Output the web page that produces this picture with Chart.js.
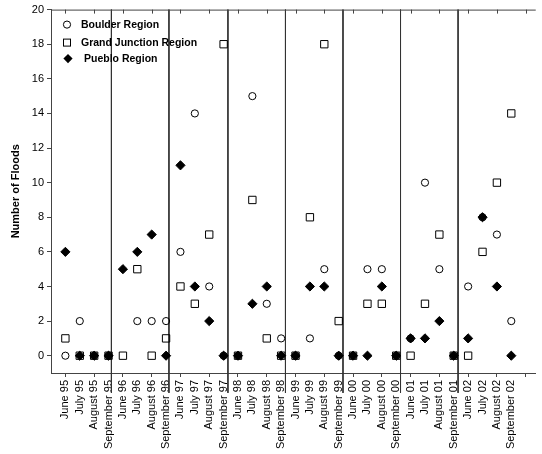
<!DOCTYPE html>
<html>
<head>
<meta charset="utf-8">
<script src="https://cdn.jsdelivr.net/npm/chart.js@4.4.0/dist/chart.umd.min.js"></script>
<style>
  body { margin: 0; background: #fff; }
</style>
</head>
<body>
<canvas id="myChart" width="542" height="454"></canvas>
<script>
var ctx = document.getElementById('myChart').getContext('2d');

// x categories, one per month
var monthLabels = [
  'June 95', 'July 95', 'August 95', 'September 95',
  'June 96', 'July 96', 'August 96', 'September 96',
  'June 97', 'July 97', 'August 97', 'September 97',
  'June 98', 'July 98', 'August 98', 'September 98',
  'June 99', 'July 99', 'August 99', 'September 99',
  'June 00', 'July 00', 'August 00', 'September 00',
  'June 01', 'July 01', 'August 01', 'September 01',
  'June 02', 'July 02', 'August 02', 'September 02'
];

var boulder = [0, 2, 0, 0, null, 2, 2, 2, 6, 14, 4, 0, 0, 15, 3, 1,
               0, 1, 5, 0, 0, 5, 5, 0, 1, 10, 5, 0, 4, 8, 7, 2];
var grandJunction = [1, 0, 0, 0, 0, 5, 0, 1, 4, 3, 7, 18, 0, 9, 1, 0,
                     0, 8, 18, 2, 0, 3, 3, 0, 0, 3, 7, 0, 0, 6, 10, 14];
var pueblo = [6, 0, 0, 0, 5, 6, 7, 0, 11, 4, 2, 0, 0, 3, 4, 0,
              0, 4, 4, 0, 0, 0, 4, 0, 1, 1, 2, 0, 1, 8, 4, 0];

// year separators (x position in category units)
var yearLines = [3.2, 7.2, 11.3, 15.3, 19.3, 23.3, 27.3];

var yTicks = [0, 2, 4, 6, 8, 10, 12, 14, 16, 18, 20];
var xTicks = [];
for (var i = 0; i <= 32; i++) xTicks.push(i);

var axisColor = '#444';

function toPoints(arr) {
  var out = [];
  arr.forEach(function(v, i) {
    if (v !== null) out.push({x: i, y: v});
  });
  return out;
}

var datasets = [
  {
    label: 'Boulder Region',
    data: toPoints(boulder),
    pointStyle: 'circle',
    pointRadius: 3.6,
    borderColor: '#000',
    backgroundColor: 'rgba(0,0,0,0)',
    borderWidth: 1,
    order: 2
  },
  {
    label: 'Grand Junction Region',
    data: toPoints(grandJunction),
    pointStyle: 'rect',
    pointRadius: 5.2,
    borderColor: '#000',
    backgroundColor: 'rgba(0,0,0,0)',
    borderWidth: 1,
    order: 3
  },
  {
    label: 'Pueblo Region',
    data: toPoints(pueblo),
    pointStyle: 'rectRot',
    pointRadius: 4.6,
    borderColor: '#000',
    backgroundColor: '#000',
    borderWidth: 1,
    order: 1
  }
];

yearLines.forEach(function(xv) {
  datasets.push({
    label: '',
    data: [{x: xv, y: 20}, {x: xv, y: -2.15}],
    showLine: true,
    borderColor: '#333',
    borderWidth: 1,
    pointRadius: 0,
    clip: false,
    order: 4
  });
});

// top frame line with inward ticks, and the legend inside the plot
var framePlugin = {
  id: 'frame',
  afterDraw: function(chart) {
    var c = chart.ctx, a = chart.chartArea, xs = chart.scales.x;
    c.save();
    c.strokeStyle = axisColor;
    c.lineWidth = 1;
    c.beginPath();
    c.moveTo(a.left, a.top + 0.5);
    c.lineTo(a.right, a.top + 0.5);
    xTicks.forEach(function(v) {
      if (v % 2 !== 0) return;
      var px = Math.round(xs.getPixelForValue(v)) + 0.5;
      c.moveTo(px, a.top);
      c.lineTo(px, a.top + 4);
    });
    c.stroke();

    // legend
    var lx = a.left + 16, ly = a.top + 15;
    c.strokeStyle = '#000';
    c.fillStyle = '#000';
    c.beginPath();
    c.arc(lx, ly, 3.6, 0, Math.PI * 2);
    c.stroke();
    c.strokeRect(lx - 3.5, ly + 18 - 3.5, 7, 7);
    var dy = ly + 34;
    c.beginPath();
    c.moveTo(lx + 1, dy - 4.6);
    c.lineTo(lx + 5.6, dy);
    c.lineTo(lx + 1, dy + 4.6);
    c.lineTo(lx - 3.6, dy);
    c.closePath();
    c.fill();
    c.font = 'bold 10.5px "Liberation Sans", Arial, sans-serif';
    c.textBaseline = 'middle';
    c.fillText('Boulder Region', lx + 14, ly + 1);
    c.fillText('Grand Junction Region', lx + 14, ly + 19);
    c.fillText('Pueblo Region', lx + 17, dy + 1);
    c.restore();
  }
};

var chart = new Chart(ctx, {
  type: 'scatter',
  data: { datasets: datasets },
  plugins: [framePlugin],
  options: {
    responsive: false,
    animation: false,
    events: [],
    layout: { padding: { top: 8, right: 0, left: 0, bottom: 0 } },
    plugins: {
      legend: { display: false },
      tooltip: { enabled: false }
    },
    scales: {
      x: {
        type: 'linear',
        position: 'bottom',
        min: -1,
        max: 32.7,
        afterBuildTicks: function(scale) {
          scale.ticks = xTicks.map(function(v) { return {value: v}; });
        },
        afterFit: function(scale) { scale.height = 81; },
        grid: {
          drawOnChartArea: false,
          tickLength: 4,
          color: function(c) {
            return (c.tick && c.tick.value % 2 === 0) ? axisColor : 'rgba(0,0,0,0)';
          }
        },
        border: { color: axisColor, width: 1 },
        ticks: {
          autoSkip: false,
          minRotation: 90,
          maxRotation: 90,
          padding: 3,
          color: '#000',
          font: { family: '"Liberation Sans", Arial, sans-serif', size: 11 },
          callback: function(v) { return monthLabels[v] || ''; }
        }
      },
      y: {
        min: -1,
        max: 20,
        afterBuildTicks: function(scale) {
          scale.ticks = yTicks.map(function(v) { return {value: v}; });
        },
        afterFit: function(scale) { scale.width = 51; },
        grid: { drawOnChartArea: false, tickLength: 4, color: axisColor },
        border: { color: axisColor, width: 1 },
        ticks: {
          padding: 3,
          color: '#000',
          font: { family: '"Liberation Sans", Arial, sans-serif', size: 11 }
        },
        title: {
          display: true,
          text: 'Number of Floods',
          color: '#000',
          padding: { top: 9, bottom: 0 },
          font: { family: '"Liberation Sans", Arial, sans-serif', size: 11, weight: 'bold' }
        }
      }
    }
  }
});
</script>
</body>
</html>
